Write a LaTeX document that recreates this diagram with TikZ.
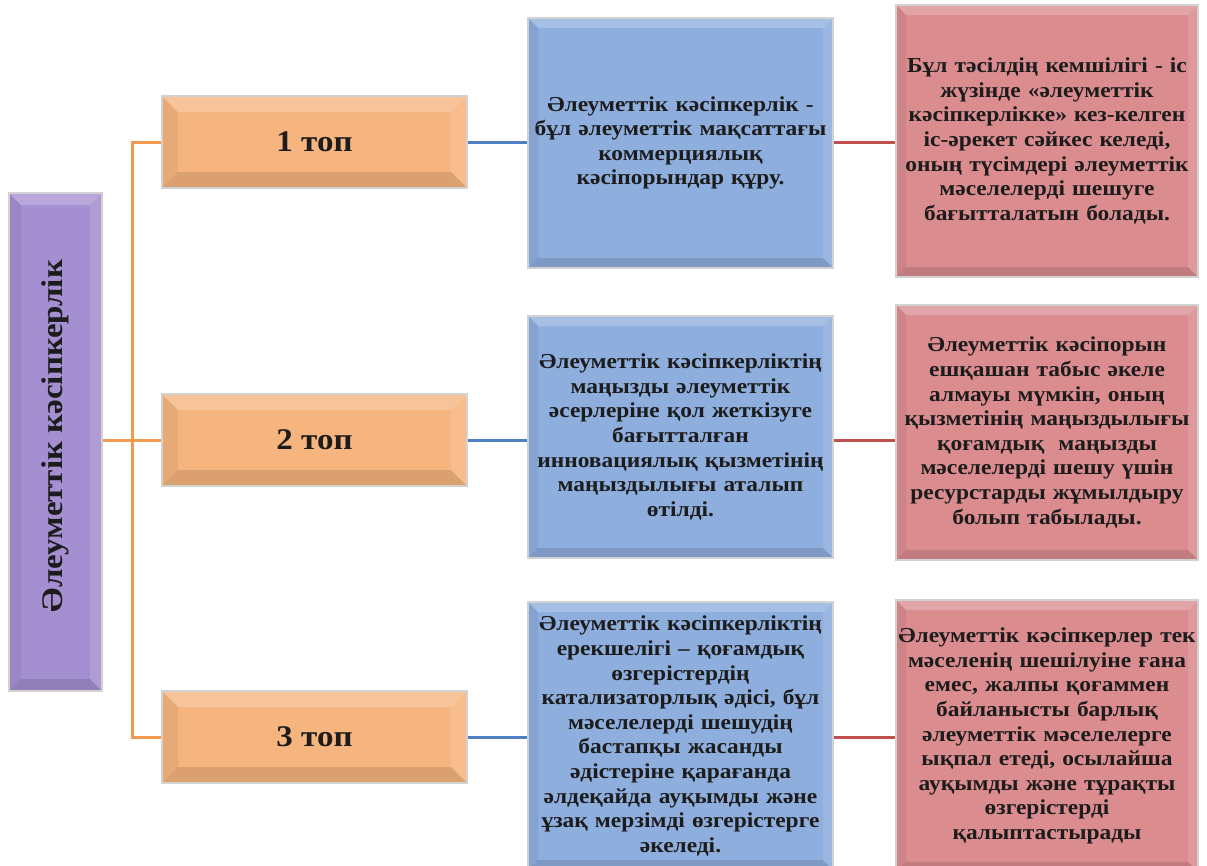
\documentclass[tikz,border=0pt]{standalone}
\usepackage{fontspec}
\setmainfont{Liberation Serif}
\newfontfamily\widefont[FakeStretch=1.1]{Liberation Serif}
\definecolor{purpfill}{HTML}{A48FD0}
\definecolor{orfill}{HTML}{F6B47E}
\definecolor{blfill}{HTML}{8EAEDD}
\definecolor{rdfill}{HTML}{DB8C8F}
\definecolor{boxline}{HTML}{D2D2D2}
\definecolor{orline}{HTML}{F39A4E}
\definecolor{blline}{HTML}{4F7FC4}
\definecolor{rdline}{HTML}{C0504D}
\definecolor{txt}{HTML}{1C1C1C}
\newcommand\bevelshape[1]{%
  \fill[white,opacity=.22] (path picture bounding box.north west) -- (path picture bounding box.north east) -- ([shift={(-#1,-#1)}]path picture bounding box.north east) -- ([shift={(#1,-#1)}]path picture bounding box.north west) -- cycle;
  \fill[black,opacity=.06] (path picture bounding box.north west) -- ([shift={(#1,-#1)}]path picture bounding box.north west) -- ([shift={(#1,#1)}]path picture bounding box.south west) -- (path picture bounding box.south west) -- cycle;
  \fill[black,opacity=.11] (path picture bounding box.south west) -- (path picture bounding box.south east) -- ([shift={(-#1,#1)}]path picture bounding box.south east) -- ([shift={(#1,#1)}]path picture bounding box.south west) -- cycle;
  \fill[white,opacity=.12] (path picture bounding box.north east) -- (path picture bounding box.south east) -- ([shift={(-#1,#1)}]path picture bounding box.south east) -- ([shift={(-#1,-#1)}]path picture bounding box.north east) -- cycle;
}
\tikzset{
  boxbase/.style={draw=boxline, line width=1.5pt, rectangle, inner sep=0pt, align=center, text=txt,
    font=\widefont\bfseries\fontsize{21.3}{24.6}\selectfont},
  bigtext/.style={font=\widefont\bfseries\fontsize{30}{34}\selectfont},
  purpbox/.style={boxbase, fill=purpfill, path picture={\bevelshape{12pt}}},
  orbox/.style={boxbase, fill=orfill, path picture={\bevelshape{16pt}}, bigtext,
    minimum width=305pt, minimum height=92pt},
  blbox/.style={boxbase, fill=blfill, path picture={\bevelshape{10pt}}, minimum width=305pt, text width=305pt},
  rdbox/.style={boxbase, fill=rdfill, path picture={\bevelshape{10pt}}, minimum width=302pt, text width=302pt},
  orconn/.style={draw=orline, line width=3pt},
  blconn/.style={draw=blline, line width=3pt},
  rdconn/.style={draw=rdline, line width=3pt},
}
\begin{document}
\begin{tikzpicture}[x=1pt,y=-1pt]
\useasboundingbox[fill=white] (0,0) rectangle (1207,865);

\node[purpbox, minimum width=93pt, minimum height=498pt] (p) at (55.5,442) {};
\node[rotate=90, text=txt, bigtext] (pt) at (55.5,436) {Әлеуметтік кәсіпкерлік};

\node[orbox] (o1) at (314.5,142) {1 топ};
\node[orbox] (o2) at (314.5,440) {2 топ};
\node[orbox] (o3) at (314.5,737) {3 топ};

\node[blbox, minimum height=250pt] (b1) at (680.5,143) {Әлеуметтік кәсіпкерлік -\\бұл әлеуметтік мақсаттағы\\коммерциялық\\кәсіпорындар құру.};
\node[blbox, minimum height=242pt] (b2) at (680.5,437) {Әлеуметтік кәсіпкерліктің\\маңызды әлеуметтік\\әсерлеріне қол жеткізуге\\бағытталған\\инновациялық қызметінің\\маңыздылығы аталып\\өтілді.};
\node[blbox, minimum height=268pt] (b3) at (680.5,736) {Әлеуметтік кәсіпкерліктің\\ерекшелігі – қоғамдық\\өзгерістердің\\катализаторлық әдісі, бұл\\мәселелерді шешудің\\бастапқы жасанды\\әдістеріне қарағанда\\әлдеқайда ауқымды және\\ұзақ мерзімді өзгерістерге\\әкеледі.};

\node[rdbox, minimum height=272pt] (r1) at (1047,141) {Бұл тәсілдің кемшілігі - іс\\жүзінде «әлеуметтік\\кәсіпкерлікке» кез-келген\\іс-әрекет сәйкес келеді,\\оның түсімдері әлеуметтік\\мәселелерді шешуге\\бағытталатын болады.};
\node[rdbox, minimum height=255pt] (r2) at (1047,432.5) {Әлеуметтік кәсіпорын\\ешқашан табыс әкеле\\алмауы мүмкін, оның\\қызметінің маңыздылығы\\қоғамдық\ \ маңызды\\мәселелерді шешу үшін\\ресурстарды жұмылдыру\\болып табылады.};
\node[rdbox, minimum height=272pt] (r3) at (1047,736) {Әлеуметтік кәсіпкерлер тек\\мәселенің шешілуіне ғана\\емес, жалпы қоғаммен\\байланысты барлық\\әлеуметтік мәселелерге\\ықпал етеді, осылайша\\ауқымды және тұрақты\\өзгерістерді\\қалыптастырады};

\coordinate (j) at (132,440);
\draw[orconn] (o1.west) -| (j) |- (o3.west);
\draw[orconn] (p.east |- o2.west) -- (o2.west);

\draw[blconn] (o1.east) -- (o1.east -| b1.west);
\draw[blconn] (o2.east) -- (o2.east -| b2.west);
\draw[blconn] (o3.east) -- (o3.east -| b3.west);

\draw[rdconn] (o1.east -| b1.east) -- (o1.east -| r1.west);
\draw[rdconn] (o2.east -| b2.east) -- (o2.east -| r2.west);
\draw[rdconn] (o3.east -| b3.east) -- (o3.east -| r3.west);
\end{tikzpicture}
\end{document}
